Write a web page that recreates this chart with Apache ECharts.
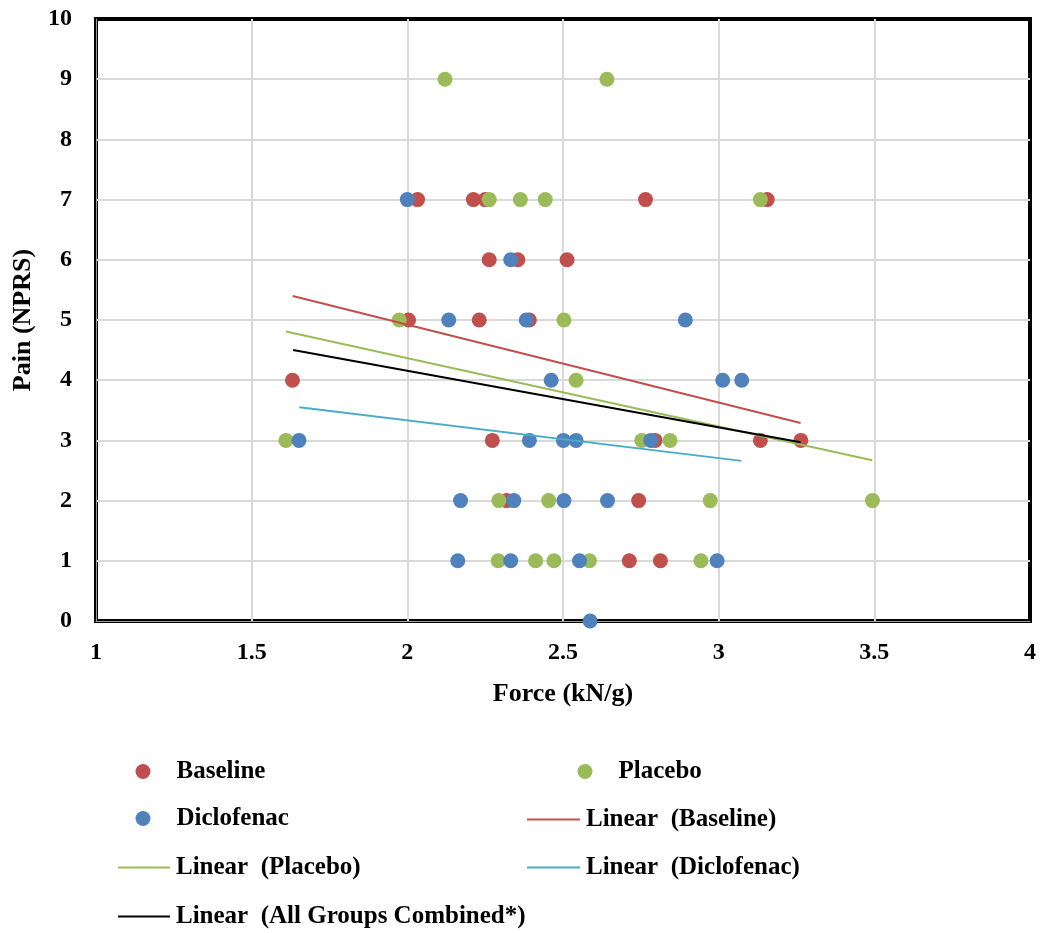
<!DOCTYPE html>
<html><head><meta charset="utf-8">
<script src="https://cdn.jsdelivr.net/npm/echarts@6/dist/echarts.min.js"></script>
<style>html,body{margin:0;padding:0;background:#fff}#c{width:1042px;height:933px}</style>
</head><body><div id="c"></div>
<script>
const xTicks = [1, 1.5, 2, 2.5, 3, 3.5, 4];
const yTicks = [0,1,2,3,4,5,6,7,8,9,10];
const baseline = [
  [2.033,7],[2.212,7],[2.25,7],[2.765,7],[3.156,7],
  [2.263,6],[2.355,6],[2.513,6],
  [2.004,5],[2.231,5],[2.392,5],
  [1.631,4],
  [2.273,3],[2.796,3],[3.134,3],[3.264,3],
  [2.319,2],[2.743,2],
  [2.713,1],[2.813,1]
];
const placebo = [
  [2.121,9],[2.641,9],
  [2.263,7],[2.363,7],[2.443,7],[3.134,7],
  [1.974,5],[2.503,5],
  [2.542,4],
  [1.610,3],[2.753,3],[2.844,3],
  [2.294,2],[2.454,2],[2.973,2],[3.494,2],
  [2.292,1],[2.412,1],[2.471,1],[2.585,1],[2.943,1]
];
const diclofenac = [
  [2.0,7],
  [2.332,6],
  [2.133,5],[2.382,5],[2.893,5],
  [2.462,4],[3.013,4],[3.074,4],
  [1.652,3],[2.392,3],[2.501,3],[2.542,3],[2.782,3],
  [2.171,2],[2.342,2],[2.503,2],[2.643,2],
  [2.162,1],[2.332,1],[2.553,1],[2.995,1],
  [2.587,0]
];
const trendBaseline = [[1.632,5.40],[3.263,3.29]];
const trendPlacebo = [[1.610,4.81],[3.493,2.67]];
const trendDiclofenac = [[1.653,3.55],[3.073,2.66]];
const trendAll = [[1.633,4.50],[3.263,2.97]];

const FONT = '"Liberation Serif", "DejaVu Serif", serif';
const RED = '#C0504D', GREEN = '#9BBB59', BLUE = '#4F81BD', CYAN = '#4BACC6';

function legendText(padLeft) {
  return { fontFamily: FONT, fontWeight: 'bold', fontSize: 25, color: '#000', padding: [0,0,0,padLeft] };
}
function dotLegend(name, cx, cy) {
  return {
    data: [name], left: cx - 7.5, top: cy - 12, icon: 'circle', itemWidth: 15, itemHeight: 15,
    itemGap: 0, padding: 0, selectedMode: false, textStyle: legendText(21)
  };
}
function lineLegend(name, x0, cy, w) {
  return {
    data: [name], left: x0, top: cy - 12, icon: 'rect', itemWidth: w, itemHeight: 2,
    itemGap: 0, padding: 0, selectedMode: false, textStyle: legendText(1)
  };
}

const chart = echarts.init(document.getElementById('c'), null, { renderer: 'canvas' });
chart.setOption({
  animation: false,
  backgroundColor: '#fff',
  grid: { left: 96, right: 12, top: 19, bottom: 312, show: true, borderColor: '#000', borderWidth: 4, containLabel: false },
  xAxis: {
    type: 'value', min: xTicks[0], max: xTicks[xTicks.length-1], interval: 0.5,
    name: 'Force (kN/g)', nameLocation: 'middle', nameGap: 60,
    nameTextStyle: { fontFamily: FONT, fontWeight: 'bold', fontSize: 26, color: '#000' },
    axisLine: { show: true, lineStyle: { color: '#9A9A9A', width: 1 } }, axisTick: { show: false },
    axisLabel: { fontFamily: FONT, fontWeight: 'bold', fontSize: 24, color: '#000', margin: 20,
      formatter: v => String(v) },
    splitLine: { show: true, showMinLine: false, showMaxLine: false, lineStyle: { color: '#D9D9D9', width: 2 } }
  },
  yAxis: {
    type: 'value', min: yTicks[0], max: yTicks[yTicks.length-1], interval: 1,
    name: 'Pain (NPRS)', nameLocation: 'middle', nameGap: 60,
    nameTextStyle: { fontFamily: FONT, fontWeight: 'bold', fontSize: 26, color: '#000' },
    axisLine: { show: true, lineStyle: { color: '#9A9A9A', width: 1 } }, axisTick: { show: false },
    axisLabel: { fontFamily: FONT, fontWeight: 'bold', fontSize: 24, color: '#000', margin: 24 },
    splitLine: { show: true, showMinLine: false, showMaxLine: false, lineStyle: { color: '#D9D9D9', width: 2 } }
  },
  legend: [
    dotLegend('Baseline', 143, 771),
    dotLegend('Placebo', 585, 771),
    dotLegend('Diclofenac', 143, 818),
    lineLegend('Linear  (Baseline)', 527, 819, 53),
    lineLegend('Linear  (Placebo)', 118, 867, 52),
    lineLegend('Linear  (Diclofenac)', 527, 867, 53),
    lineLegend('Linear  (All Groups Combined*)', 118, 916, 52)
  ],
  series: [
    { name: 'Baseline', type: 'scatter', data: baseline, symbolSize: 15, itemStyle: { color: RED, opacity: 1 }, clip: false, z: 3 },
    { name: 'Placebo', type: 'scatter', data: placebo, symbolSize: 15, itemStyle: { color: GREEN, opacity: 1 }, clip: false, z: 3 },
    { name: 'Diclofenac', type: 'scatter', data: diclofenac, symbolSize: 15, itemStyle: { color: BLUE, opacity: 1 }, clip: false, z: 3 },
    { name: 'Linear  (Baseline)', type: 'line', data: trendBaseline, symbol: 'none', lineStyle: { color: RED, width: 2 }, itemStyle: { color: RED }, z: 4 },
    { name: 'Linear  (Placebo)', type: 'line', data: trendPlacebo, symbol: 'none', lineStyle: { color: GREEN, width: 2 }, itemStyle: { color: GREEN }, z: 4 },
    { name: 'Linear  (Diclofenac)', type: 'line', data: trendDiclofenac, symbol: 'none', lineStyle: { color: CYAN, width: 2 }, itemStyle: { color: CYAN }, z: 4 },
    { name: 'Linear  (All Groups Combined*)', type: 'line', data: trendAll, symbol: 'none', lineStyle: { color: '#000', width: 2 }, itemStyle: { color: '#000' }, z: 4 }
  ]
});
</script>
</body></html>
